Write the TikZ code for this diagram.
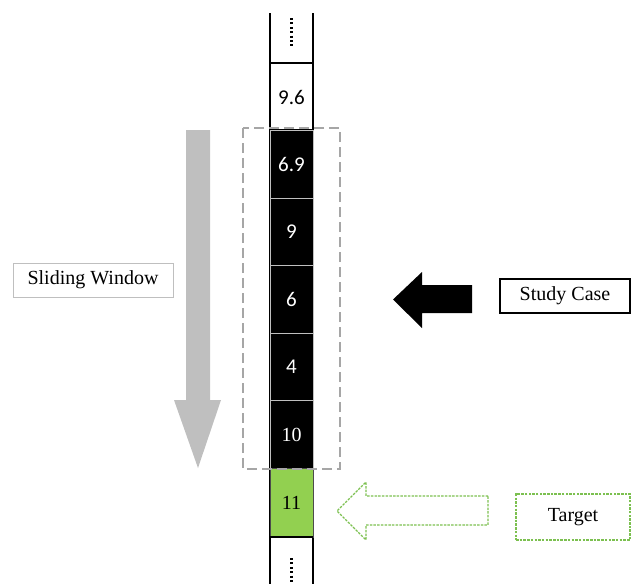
\documentclass[tikz,border=0pt]{standalone}
\usepackage{fontspec}
\setmainfont{Liberation Serif}
\newfontfamily\cellsans{Carlito}
\definecolor{arrowgray}{HTML}{BFBFBF}
\definecolor{framegray}{HTML}{A6A6A6}
\definecolor{leafgreen}{HTML}{92D050}
\definecolor{dashgreen}{HTML}{7CC050}
\begin{document}
\begin{tikzpicture}[x=1pt,y=-1pt,
  every node/.style={font=\fontsize{20}{23}\selectfont, inner sep=0pt},
  numsans/.style={font=\cellsans\fontsize{21}{24}\selectfont},
  seqcell/.style={anchor=north, minimum width=43pt, text=white, fill=black,
    draw=white!75!black, line width=0.9pt},
  goalcell/.style={anchor=north, minimum width=43pt, minimum height=69pt,
    fill=leafgreen, draw=black!70, line width=1pt},
  labelbox/.style={minimum height=34pt},
  dotline/.style={line width=2.6pt, dash pattern=on 2pt off 2.4pt},
  rail/.style={line width=1.3pt, black}
]
\useasboundingbox (0,0) rectangle (631,584);

% column rails and open cells
\draw[rail] (270,13) -- (270,584);
\draw[rail] (313,13) -- (313,584);
\draw[rail] (270,63) -- (313,63);
\draw[rail] (270,130) -- (313,130);
\draw[dotline] (291.5,18) -- (291.5,47);
\draw[dotline] (291.5,558) -- (291.5,584);
\node[numsans] (c0) at (291.5,97) {9.6};

% window cells
\node[seqcell, numsans, minimum height=67.6pt] (c1) at (291.5,130) {6.9};
\node[seqcell, numsans, minimum height=67.6pt] (c2) at (291.5,197.6) {9};
\node[seqcell, numsans, minimum height=67.6pt] (c3) at (291.5,265.2) {6};
\node[seqcell, numsans, minimum height=67.6pt] (c4) at (291.5,332.8) {4};
\node[seqcell, minimum height=67.6pt] (c5) at (291.5,400.4) {10};
\node[goalcell] (c6) at (291.5,468) {11};
\draw[rail] (270,537) -- (313,537);

% window frame
\draw[framegray, line width=2.2pt, dash pattern=on 10pt off 5pt] (243,128) rectangle (340,469);

% sliding arrow
\fill[arrowgray] (186,130) -- (210,130) -- (210,400) -- (221,400) -- (198,468)
  -- (174,400) -- (186,400) -- cycle;
\node[labelbox, minimum width=160pt, draw=black!25, line width=0.8pt] (sw) at (93,280) {Sliding Window};

% study case
\fill[black] (472,285) -- (422,285) -- (422,272) -- (393,299.5) -- (422,328)
  -- (422,313) -- (472,313) -- cycle;
\node[labelbox, minimum width=130pt, draw=black, line width=1.2pt] (sc) at (565,296) {Study Case};

% target
\draw[dashgreen, line width=1.1pt, dash pattern=on 2.5pt off 1.2pt]
  (488,496) -- (366,496) -- (366,482) -- (337,511) -- (366,540) -- (366,525)
  -- (488,525) -- cycle;
\node[minimum width=114pt, minimum height=46pt, draw=dashgreen, line width=1.1pt,
  dash pattern=on 2.5pt off 1.2pt] (tg) at (573,517) {Target};
\end{tikzpicture}
\end{document}
